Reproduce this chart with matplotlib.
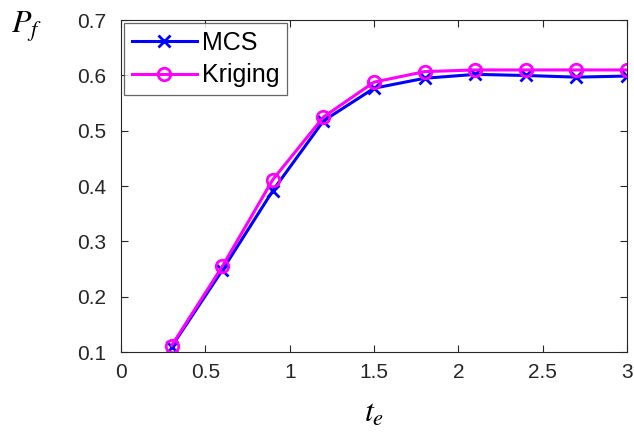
import matplotlib.pyplot as plt
import numpy as np

plt.rcParams['font.family'] = ['Liberation Sans', 'DejaVu Sans']
plt.rcParams['mathtext.fontset'] = 'stix'

# time horizon and failure probability estimates
te = [0.3, 0.6, 0.9, 1.2, 1.5, 1.8, 2.1, 2.4, 2.7, 3.0]
pf_mcs = [0.110, 0.248, 0.392, 0.518, 0.577, 0.595, 0.602, 0.600, 0.597, 0.599]
pf_kriging = [0.112, 0.255, 0.412, 0.525, 0.588, 0.607, 0.610, 0.610, 0.610, 0.610]

fig = plt.figure(figsize=(6.34, 4.38), dpi=100)
ax = fig.add_axes([0.191, 0.196, 0.798, 0.758])

ax.plot(te, pf_mcs, color='#0000ff', lw=2.2, marker='x', ms=8, mew=2, label='MCS')
ax.plot(te, pf_kriging, color='#ff00ff', lw=2.2, marker='o', ms=9, mew=2,
        mfc='none', label='Kriging')

ax.set_xlim(0, 3)
ax.set_ylim(0.1, 0.7)
ax.set_xticks(np.arange(0, 3.01, 0.5))
ax.set_xticklabels(['0', '0.5', '1', '1.5', '2', '2.5', '3'])
ax.set_yticks(np.arange(0.1, 0.71, 0.1))
ax.set_yticklabels(['0.1', '0.2', '0.3', '0.4', '0.5', '0.6', '0.7'])
ax.tick_params(direction='in', labelsize=15, colors='#262626', length=5,
               top=True, right=True)
ax.tick_params(axis='y', pad=11)
ax.tick_params(axis='x', pad=8)
for s in ax.spines.values():
    s.set_color('#262626')
    s.set_linewidth(0.8)

ax.set_xlabel('$t_e$', fontsize=23, labelpad=12)
fig.text(0.018, 0.925, '$P_f$', fontsize=23)

leg = ax.legend(loc='upper left', fontsize=18, frameon=True, fancybox=False,
                edgecolor='#404040', borderaxespad=0.12, handlelength=2.6,
                handletextpad=0.2, borderpad=0.3, labelspacing=0.35)
leg.get_frame().set_linewidth(0.9)

fig.savefig('out.png', dpi=100)
